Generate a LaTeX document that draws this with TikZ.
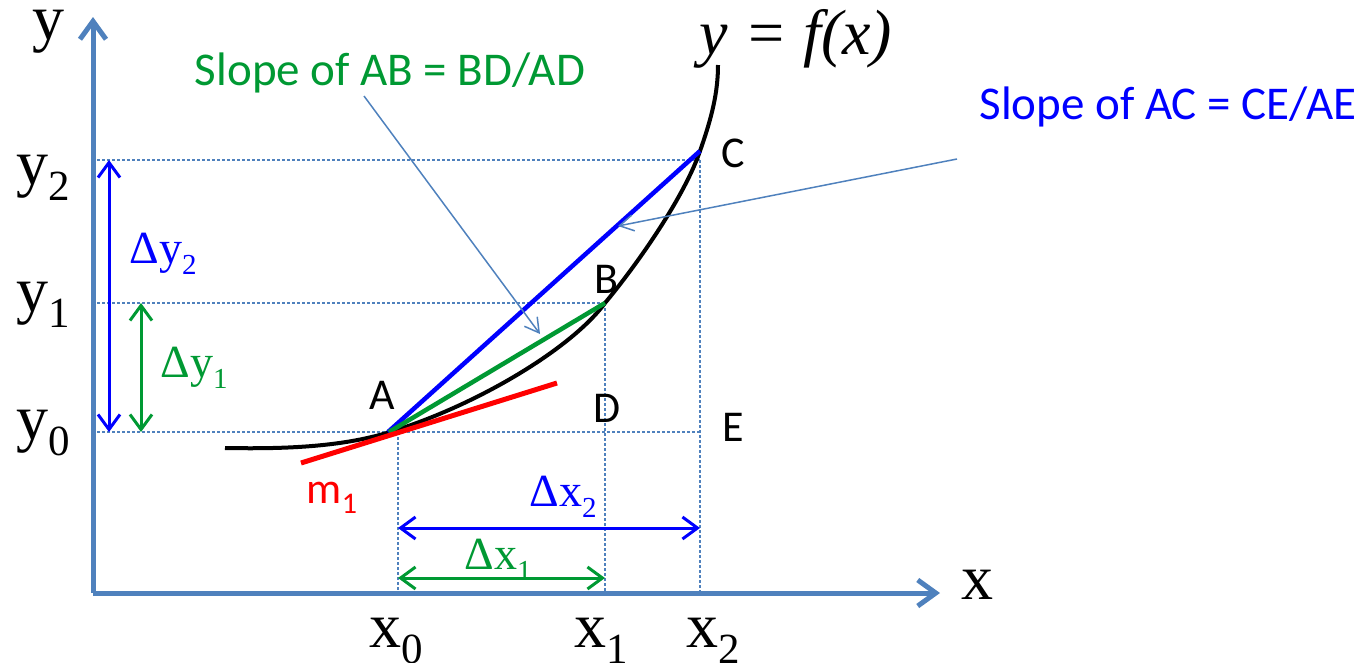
\documentclass[tikz,border=0pt]{standalone}
\usepackage{fontspec}
\setmainfont{Liberation Serif}
\newfontfamily\calibfont{Carlito}
\usetikzlibrary{arrows.meta}
\definecolor{axisblue}{RGB}{79,129,189}
\definecolor{slopegreen}{RGB}{0,153,51}
\newcommand\axsub[2]{#1{\fontsize{43}{43}\selectfont\raisebox{-16pt}{#2}}}
\newcommand\dsub[2]{Δ#1{\fontsize{29}{29}\selectfont\raisebox{-11pt}{#2}}}

\begin{document}
\begin{tikzpicture}[
  x=1pt, y=-1pt,
  axis/.style={draw=axisblue, line width=5pt, -{Straight Barb[length=18pt,width=26pt]}},
  guide/.style={draw=axisblue, line width=2pt, dash pattern=on 2.5pt off 2.5pt},
  dim/.style={line width=3pt, {Straight Barb[length=15pt,width=22pt]}-{Straight Barb[length=15pt,width=22pt]}},
  callout/.style={draw=axisblue, line width=1.5pt, -{Straight Barb[length=14pt,width=16pt]}},
  chord/.style={line width=4.5pt},
  big/.style={font=\fontsize{64}{64}\selectfont, inner sep=0pt, anchor=base},
  dlab/.style={font=\fontsize{46}{46}\selectfont, inner sep=0pt, anchor=base},
  ptlab/.style={font=\calibfont\fontsize{44}{44}\selectfont, inner sep=0pt, anchor=base},
  title/.style={font=\calibfont\fontsize{47}{47}\selectfont, inner sep=0pt, anchor=base}
]
  \useasboundingbox (0,0) rectangle (1369,662);

  % levels
  \def\ya{432}
  \def\yb{303}
  \def\yc{160}
  \def\xa{398}
  \def\xb{605}
  \def\xc{700}

  % points on the curve
  \coordinate (O) at (93,593);
  \coordinate (A) at (390,432);
  \coordinate (B) at (605,303);
  \coordinate (C) at (700,151);

  % guides
  \draw[guide] (97,\yc) -- (\xc,\yc);
  \draw[guide] (97,\yb) -- (\xb,\yb);
  \draw[guide] (97,\ya) -- (\xc,\ya);
  \draw[guide] (\xa,\ya) -- (\xa,593);
  \draw[guide] (\xb,\yb) -- (\xb,593);
  \draw[guide] (\xc,\yc) -- (\xc,593);

  % axes
  \draw[axis] (O) -- (93,17);
  \draw[axis] (O) -- (940,593);
  \node[big] (ylab) at (48,39) {y};
  \node[big] (xlab) at (977,599) {x};
  \node[big] (y2) at (43,184) {\axsub{y}{2}};
  \node[big] (y1) at (43,311) {\axsub{y}{1}};
  \node[big] (y0) at (43,439) {\axsub{y}{0}};
  \node[big] (x0) at (396,647) {\axsub{x}{0}};
  \node[big] (x1) at (601,647) {\axsub{x}{1}};
  \node[big] (x2) at (713,647) {\axsub{x}{2}};

  % y = f(x)
  \draw[line width=4pt] (225,448) .. controls (280,449) and (340,447.6) .. (A)
    .. controls (478,405) and (572,348) .. (B)
    .. controls (640,261) and (685,195) .. (C)
    .. controls (712,117) and (718,92) .. (718,65);
  \node[big, font=\fontsize{64}{64}\selectfont\itshape] (fx) at (796,54) {y = f(x)};

  % chords and tangent
  \draw[chord, blue] (388,432) -- (C);
  \draw[chord, slopegreen] (389,432) -- (B);
  \draw[line width=5pt, red] (301,463) -- (557,383);

  % point labels
  \node[ptlab] (lA) at (382,409) {A};
  \node[ptlab] (lB) at (606,293) {B};
  \node[ptlab] (lC) at (733,167) {C};
  \node[ptlab] (lD) at (607,422) {D};
  \node[ptlab] (lE) at (733,441) {E};
  \node[ptlab, red] (m1) at (332,503) {m{\fontsize{30}{30}\selectfont\raisebox{-10pt}{1}}};

  % increments
  \draw[dim, blue] (109,\yc) -- (109,\ya);
  \draw[dim, slopegreen] (141,\yb) -- (141,\ya);
  \draw[dim, blue] (\xa,528) -- (\xc,528);
  \draw[dim, slopegreen] (\xa,578) -- (\xb,578);
  \node[dlab, blue] (dy2) at (163,263) {\dsub{y}{2}};
  \node[dlab, slopegreen] (dy1) at (194,377) {\dsub{y}{1}};
  \node[dlab, blue] (dx2) at (563,506) {\dsub{x}{2}};
  \node[dlab, slopegreen] (dx1) at (498,569) {\dsub{x}{1}};

  % slope notes
  \node[title, slopegreen] (sAB) at (390,85) {Slope of AB = BD/AD};
  \node[title, blue] (sAC) at (1168,119) {Slope of AC = CE/AE};
  \coordinate (gtip) at (540,334);
  \coordinate (btip) at (618,226);
  \draw[callout] (364,96) -- (gtip);
  \draw[callout] (957,159) -- (btip);
\end{tikzpicture}
\end{document}
